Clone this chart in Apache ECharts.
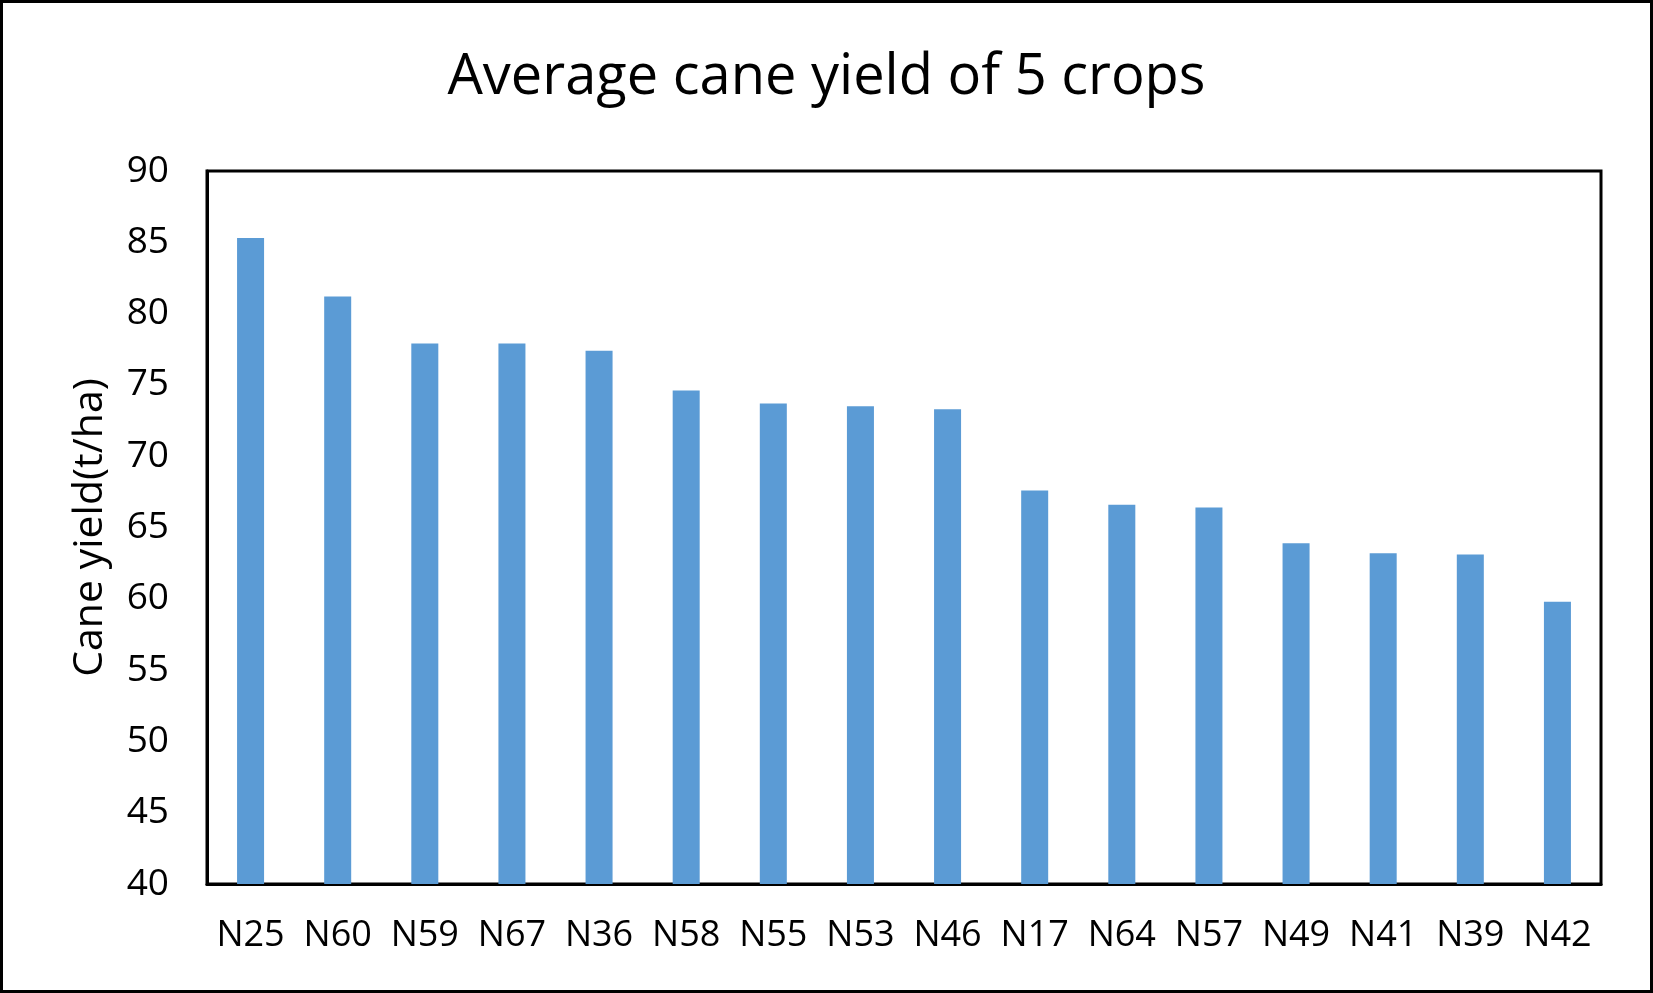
<!DOCTYPE html>
<html>
<head>
<meta charset="utf-8">
<style>
  html, body { margin: 0; padding: 0; background: #fff; }
  #main { width: 1653px; height: 993px; }
</style>
<script src="https://cdn.jsdelivr.net/npm/echarts@6/dist/echarts.min.js"></script>
</head>
<body>
<div id="main"></div>
<script>
// varieties, sorted by yield
var categories = ['N25', 'N60', 'N59', 'N67', 'N36', 'N58', 'N55', 'N53',
    'N46', 'N17', 'N64', 'N57', 'N49', 'N41', 'N39', 'N42'];
// average cane yield (t/ha)
var yields = [85.3, 81.2, 77.9, 77.9, 77.4, 74.6, 73.7, 73.5,
    73.3, 67.6, 66.6, 66.4, 63.9, 63.2, 63.1, 59.8];
var yMin = 40, yMax = 90, yStep = 5;

var FONT = 'Open Sans';

function renderChart() {
    var dom = document.getElementById('main');
    var myChart = echarts.init(dom, null, { renderer: 'canvas' });

    var option = {
        animation: false,
        backgroundColor: '#fff',
        title: {
            text: 'Average cane yield of 5 crops',
            left: 'center',
            top: 45,
            textStyle: {
                fontFamily: FONT,
                fontSize: 56,
                fontWeight: 'normal',
                color: '#000'
            }
        },
        // outer chart frame
        graphic: [{
            type: 'rect',
            silent: true,
            shape: { x: 1.5, y: 1.5, width: 1650, height: 990 },
            style: { fill: 'none', stroke: '#000', lineWidth: 3 }
        }],
        grid: {
            left: 207,
            right: 52,
            top: 171,
            bottom: 109,
            show: true,
            borderColor: '#000',
            borderWidth: 3
        },
        xAxis: {
            type: 'category',
            data: categories,
            axisLine: { show: true, lineStyle: { color: '#000', width: 3 } },
            axisTick: { show: false },
            axisLabel: {
                interval: 0,
                hideOverlap: false,
                margin: 34,
                fontFamily: FONT,
                fontSize: 36,
                color: '#000'
            }
        },
        yAxis: {
            type: 'value',
            min: yMin,
            max: yMax,
            interval: yStep,
            name: 'Cane yield(t/ha)',
            nameLocation: 'middle',
            nameGap: 96,
            nameTextStyle: {
                fontFamily: FONT,
                fontSize: 41,
                color: '#000'
            },
            axisLine: { show: true, lineStyle: { color: '#000', width: 3 } },
            axisTick: { show: false },
            splitLine: { show: false },
            axisLabel: {
                margin: 38,
                fontFamily: FONT,
                fontSize: 37,
                color: '#000'
            }
        },
        series: [{
            name: 'Cane yield',
            type: 'bar',
            data: yields,
            barWidth: '31%',
            itemStyle: { color: '#5B9BD5' }
        }]
    };

    myChart.setOption(option);
}
renderChart();
</script>
</body>
</html>
